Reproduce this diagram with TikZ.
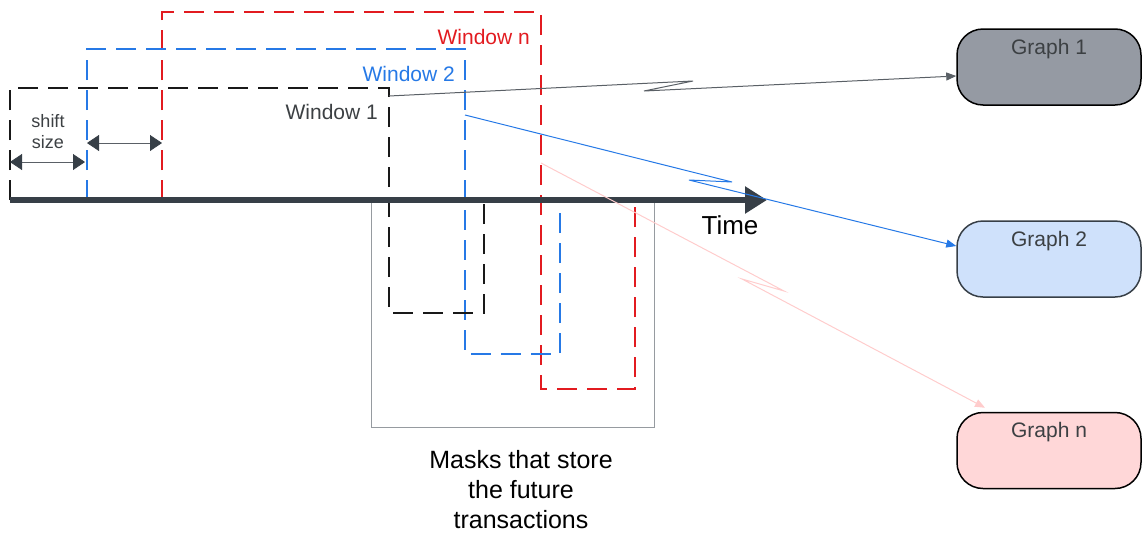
\documentclass[tikz,border=0pt]{standalone}
\usepackage{fontspec}
\setmainfont{Liberation Sans}
\usetikzlibrary{arrows.meta,positioning}
\definecolor{WinBlack}{RGB}{25,25,25}
\definecolor{WinBlue}{RGB}{38,121,230}
\definecolor{WinRed}{RGB}{226,27,32}
\definecolor{AxisGray}{RGB}{55,63,71}
\definecolor{TextGray}{RGB}{60,64,67}
\definecolor{LinkGray}{RGB}{90,96,102}
\definecolor{LinkPink}{RGB}{255,204,204}
\definecolor{MaskGray}{RGB}{150,155,160}
\definecolor{GraphGrayFill}{RGB}{149,154,163}
\definecolor{GraphBlueFill}{RGB}{207,225,251}
\definecolor{GraphRedFill}{RGB}{255,215,216}
\tikzset{
  winline/.style={line width=1.6pt,dash pattern=on 20pt off 10pt},
  wlabel/.style={font=\fontsize{21}{24}\selectfont,anchor=east,inner sep=0pt},
  graphbox/.style={draw,line width=1.5pt,rounded corners=26pt,minimum width=184pt,minimum height=76pt,inner sep=0pt},
  glabel/.style={font=\fontsize{21}{24}\selectfont,text=TextGray,anchor=north,yshift=-7pt},
  link/.style={line width=1pt,-{Triangle[length=10pt,width=8pt]}},
  shiftarrow/.style={line width=0.8pt,draw=LinkGray,{Triangle[length=12pt,width=16pt,color=AxisGray]}-{Triangle[length=12pt,width=16pt,color=AxisGray]}}
}

\begin{document}
\begin{tikzpicture}[x=1pt,y=-1pt]
  \useasboundingbox (0,0) rectangle (1142,533);
  \draw[winline,WinRed] (162,200)--(162,12)--(541,12)--(541,389)--(635,389)--(635,200);
  \draw[winline,WinBlue] (87,200)--(87,49)--(465,49)--(465,354)--(560,354)--(560,200);
  \draw[winline,WinBlack] (10,200)--(10,88)--(389,88)--(389,313)--(484,313)--(484,200);
  \draw[MaskGray,line width=0.8pt] (371,200) rectangle (654,427);
  \draw[AxisGray,line width=6pt,-{Triangle[length=22pt,width=26pt]}] (10,200)--(767,200);

  \node[wlabel,text=WinRed] (lbln) at (530,37) {Window n};
  \node[wlabel,text=WinBlue] (lbl2) at (455,74) {Window 2};
  \node[wlabel,text=TextGray] (lbl1) at (378,112) {Window 1};
  \node[font=\fontsize{18}{21}\selectfont,text=TextGray,align=center] (shift) at (48,132) {shift\\size};
  \node[font=\fontsize{26}{30}\selectfont] (time) at (730,225) {Time};
  \node[font=\fontsize{25}{30}\selectfont,align=center] (masks) at (521,490) {Masks that store\\the future\\transactions};

  \coordinate (s1a) at (10,162);
  \coordinate (s1b) at (85,162);
  \coordinate (s2a) at (87,143);
  \coordinate (s2b) at (162,143);
  \draw[shiftarrow] (s1a)--(s1b);
  \draw[shiftarrow] (s2a)--(s2b);

  \node[graphbox,fill=GraphGrayFill,draw=black] (g1) at (1049,67) {};
  \node[graphbox,fill=GraphBlueFill,draw=AxisGray] (g2) at (1049,259) {};
  \node[graphbox,fill=GraphRedFill,draw=black] (gn) at (1049,450.5) {};
  \node[glabel] at (g1.north) {Graph 1};
  \node[glabel] at (g2.north) {Graph 2};
  \node[glabel] at (gn.north) {Graph n};

  \coordinate (w1) at (389,96);
  \coordinate (w2) at (465,115);
  \coordinate (wn) at (541,163);
  \draw[link,LinkGray] (w1)--(693,81)--(644,91)--([yshift=-9pt]g1.west);
  \draw[link,WinBlue] (w2)--(732,182)--(689,180)--([yshift=13pt]g2.west);
  \draw[link,LinkPink] (wn)--(784,291)--(742,279)--([xshift=-64pt,yshift=4pt]gn.north);
\end{tikzpicture}
\end{document}
